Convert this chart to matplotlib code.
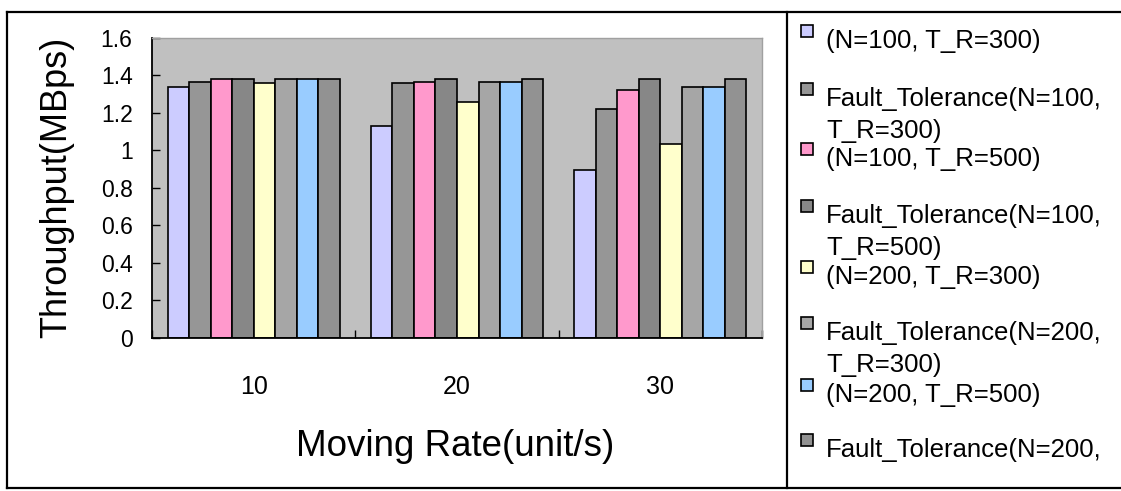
import numpy as np
import matplotlib
matplotlib.use("Agg")
import matplotlib.pyplot as plt
from matplotlib.lines import Line2D
from matplotlib.patches import Rectangle

plt.rcParams['font.family'] = ['Liberation Sans', 'DejaVu Sans']

W, H = 1121, 491

moving_rates = ['10', '20', '30']

# throughput (MBps) per moving rate
tp_n100_tr300 = [1.335, 1.131, 0.894]
ft_n100_tr300 = [1.365, 1.357, 1.218]
tp_n100_tr500 = [1.378, 1.365, 1.321]
ft_n100_tr500 = [1.378, 1.378, 1.378]
tp_n200_tr300 = [1.357, 1.259, 1.033]
ft_n200_tr300 = [1.378, 1.365, 1.335]
tp_n200_tr500 = [1.378, 1.365, 1.335]
ft_n200_tr500 = [1.378, 1.378, 1.378]

series_labels = [
    '(N=100, T_R=300)',
    'Fault_Tolerance(N=100,\nT_R=300)',
    '(N=100, T_R=500)',
    'Fault_Tolerance(N=100,\nT_R=500)',
    '(N=200, T_R=300)',
    'Fault_Tolerance(N=200,\nT_R=300)',
    '(N=200, T_R=500)',
    'Fault_Tolerance(N=200,\nT_R=500)',
]
series_colors = ['#ccccff', '#969696', '#ff99cc', '#878787',
                 '#ffffcc', '#a6a6a6', '#99ccff', '#929292']
series_values = [tp_n100_tr300, ft_n100_tr300, tp_n100_tr500, ft_n100_tr500,
                 tp_n200_tr300, ft_n200_tr300, tp_n200_tr500, ft_n200_tr500]


def fx(px):
    return px / W


def fy(py):
    return 1 - py / H


fig = plt.figure(figsize=(W / 100, H / 100), dpi=100)

# main plot area
ax = fig.add_axes([fx(152), fy(337.7), 610 / W, 300 / H])
ax.set_facecolor('#c0c0c0')

x = np.arange(len(moving_rates))
bar_w = 0.1058
for i, (vals, col) in enumerate(zip(series_values, series_colors)):
    ax.bar(x + (i - 3.5) * bar_w, vals, bar_w, color=col,
           edgecolor='black', linewidth=1.2, zorder=2)

ax.set_xlim(-0.5, 2.5)
ax.set_ylim(0, 1.6)

yt = np.arange(0, 1.61, 0.2)
ax.set_yticks(yt)
ax.set_yticklabels(['0', '0.2', '0.4', '0.6', '0.8', '1', '1.2', '1.4', '1.6'])
ax.tick_params(axis='y', direction='in', length=5.5, width=1, pad=14, labelsize=16.5)

ax.set_xticks([-0.5, 0.5, 1.5, 2.5])
ax.set_xticklabels([])
ax.set_xticks(x, minor=True)
ax.set_xticklabels(moving_rates, minor=True)
ax.tick_params(axis='x', which='major', direction='in', length=5.5, width=1)
ax.tick_params(axis='x', which='minor', length=0, pad=27, labelsize=18)

for side in ['top', 'right']:
    ax.spines[side].set_color('#a0a0a0')
    ax.spines[side].set_linewidth(1)
for side in ['left', 'bottom']:
    ax.spines[side].set_color('black')
    ax.spines[side].set_linewidth(1.3)

ax.set_ylabel('Throughput(MBps)', fontsize=26)
ax.yaxis.set_label_coords((57 - 152) / 610, 0.5)
ax.yaxis.label.set_va('center')
ax.set_xlabel('Moving Rate(unit/s)', fontsize=26.5)
ax.xaxis.set_label_coords((455 - 152) / 610, (337.7 - 447) / 300)
ax.xaxis.label.set_va('center')

# chart frame and legend box
frame = [
    ((7, 7), (12, 488)),
    ((7, 1121), (12, 12)),
    ((7, 1121), (488, 488)),
    ((787, 787), (12, 488)),
]
for xs, ys in frame:
    fig.add_artist(Line2D([fx(v) for v in xs], [fy(v) for v in ys],
                          transform=fig.transFigure, color='black', lw=1.6))

# legend, laid out in pixel coordinates inside the box
lax = fig.add_axes([fx(787), fy(488), (1121 - 787) / W, (488 - 12) / H])
lax.set_xlim(787, 1121)
lax.set_ylim(488, 12)
lax.axis('off')

single_y = [41, 159, 277, 395]
fault_y = [99, 216, 333, 450]
line_gap = 32
legend_bottom = 468  # lines below this don't fit in the box
for i, (label, col) in enumerate(zip(series_labels, series_colors)):
    cy = single_y[i // 2] if i % 2 == 0 else fault_y[i // 2]
    lax.add_patch(Rectangle((801, cy - 16), 12, 12, facecolor=col,
                            edgecolor='black', linewidth=1.2))
    for j, line in enumerate(label.split('\n')):
        ly = cy + j * line_gap
        if ly > legend_bottom:
            break
        lax.text(826, ly, line, fontsize=18.5, va='center', ha='left')

fig.savefig('out.png', dpi=100)
